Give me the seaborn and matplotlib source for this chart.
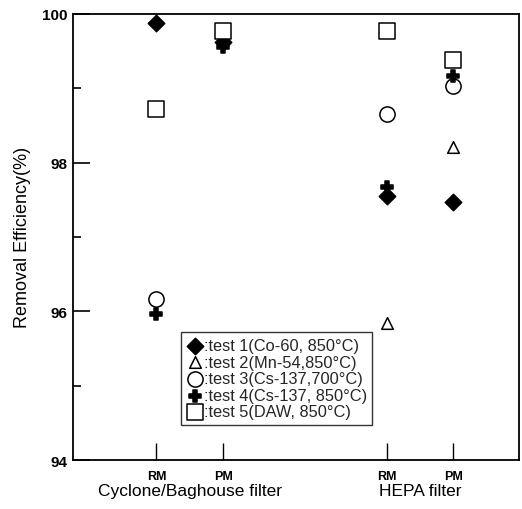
import pandas as pd
import numpy as np
import matplotlib
matplotlib.use("Agg")
import matplotlib.pyplot as plt
import seaborn as sns

# data
positions = [1.0, 2.0, 4.45, 5.45]
tick_labels = ["RM", "PM", "RM", "PM"]
group_labels = ["Cyclone/Baghouse filter", "HEPA filter"]

test1 = [99.87, 99.62, 97.55, 97.47]
test2 = [np.nan, np.nan, 95.84, 98.21]
test3 = [96.17, np.nan, 98.65, 99.03]
test4 = [95.97, 99.55, 97.67, 99.17]
test5 = [98.72, 99.77, 99.77, 99.38]

series_names = [":test 1(Co-60, 850\u00b0C)", ":test 2(Mn-54,850\u00b0C)",
                ":test 3(Cs-137,700\u00b0C)", ":test 4(Cs-137, 850\u00b0C)",
                ":test 5(DAW, 850\u00b0C)"]
series_values = [test1, test2, test3, test4, test5]

rows = []
for name, vals in zip(series_names, series_values):
    for x, v in zip(positions, vals):
        rows.append({"pos": x, "eff": v, "test": name})
df = pd.DataFrame(rows).dropna()

sns.set_style("ticks")
plt.rcParams['font.family'] = ['Liberation Sans', 'DejaVu Sans']

fig = plt.figure(figsize=(5.22, 5.10), dpi=100)
ax = fig.add_axes([0.140, 0.096, 0.854, 0.875])

styles = {
    series_names[0]: dict(marker="D", s=70, facecolor="black"),
    series_names[1]: dict(marker="^", s=70, facecolor="white"),
    series_names[2]: dict(marker="o", s=120, facecolor="white"),
    series_names[3]: dict(marker="P", s=85, facecolor="black"),
    series_names[4]: dict(marker="s", s=120, facecolor="white"),
}

for name in series_names:
    st = styles[name]
    sns.scatterplot(data=df[df["test"] == name], x="pos", y="eff", ax=ax,
                    marker=st["marker"], s=st["s"], color=st["facecolor"],
                    edgecolor="black", linewidth=1.1, label=name, zorder=3)

ax.set_xlim(-0.25, 6.43)
ax.set_ylim(94, 100)
ax.set_yticks([94, 96, 98, 100])
ax.set_yticks([95, 97, 99], minor=True)
ax.set_xticks(positions)
ax.set_xticklabels(tick_labels, fontsize=9, fontweight="bold")
ax.tick_params(axis="y", which="major", direction="in", length=12, width=1.2,
               labelsize=11, pad=4, colors="black")
ax.tick_params(axis="y", which="minor", direction="in", length=6, width=1.2,
               colors="black")
ax.tick_params(axis="x", which="major", direction="in", length=12, width=1.0,
               pad=7, colors="black")
for lab in ax.get_yticklabels():
    lab.set_fontweight("bold")
for sp in ax.spines.values():
    sp.set_linewidth(1.3)
    sp.set_color("black")

ax.set_xlabel("")
ax.set_ylabel("Removal Efficiency(%)", fontsize=13, labelpad=8, color="black")

group_centers = [np.mean(positions[:2]), np.mean(positions[2:])]
for xc, lab in zip(group_centers, group_labels):
    ax.text(xc, -0.052, lab, transform=ax.get_xaxis_transform(),
            ha="center", va="top", fontsize=12.5, color="black")

leg = ax.legend(loc="lower left", bbox_to_anchor=(0.243, 0.078),
                frameon=True, fancybox=False, edgecolor="black",
                fontsize=11.8, handletextpad=0.0, labelspacing=0.1,
                borderpad=0.35, handlelength=1.0, borderaxespad=0)
leg.get_frame().set_linewidth(1.0)

fig.savefig("out.png", dpi=100)
